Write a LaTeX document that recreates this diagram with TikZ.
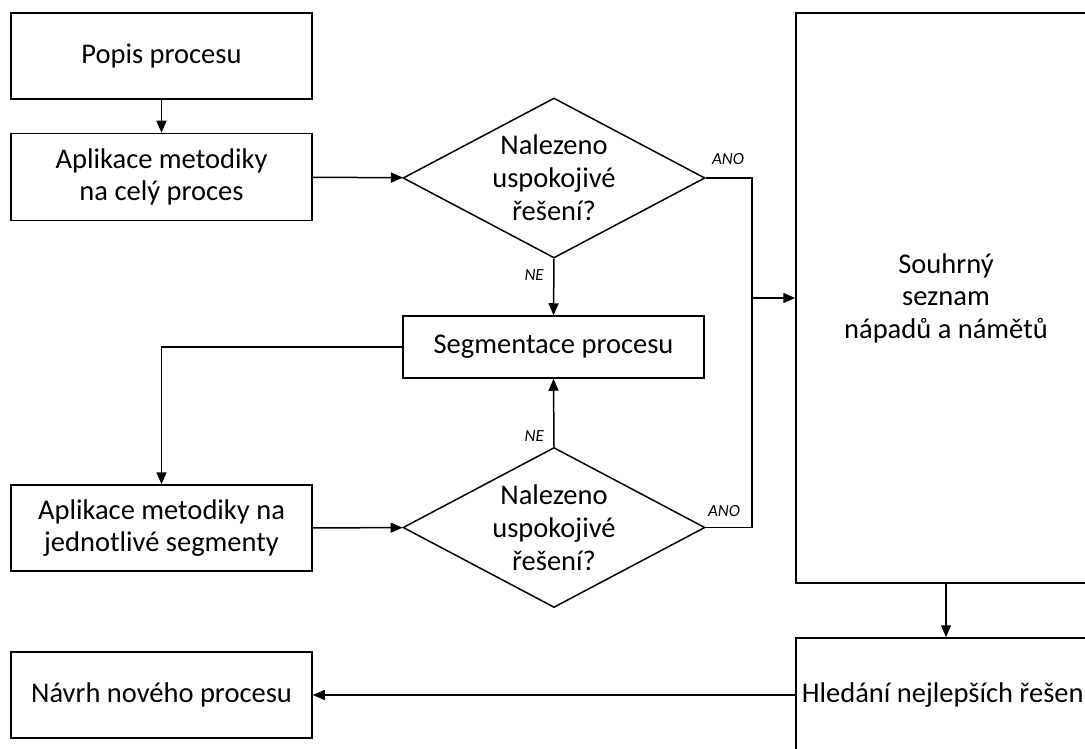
\documentclass[tikz,border=0pt]{standalone}
\usepackage{fontspec}
\setmainfont{Carlito}
\usepackage{tikz}
\usetikzlibrary{shapes.geometric,arrows.meta}

\tikzset{
  krok/.style={draw, line width=1.5pt, align=center, inner sep=2pt,
    font=\fontsize{28.5}{32.5}\selectfont},
  rozhod/.style={draw, diamond, line width=1.5pt, align=center, inner sep=-30pt,
    minimum width=302pt, minimum height=160pt, font=\fontsize{28.5}{33}\selectfont},
  sipka/.style={line width=1.5pt, -{Triangle[length=12pt,width=10pt]}},
  spoj/.style={line width=1.5pt},
  popisek/.style={font=\fontsize{17}{20}\selectfont\itshape}
}

\begin{document}
\begin{tikzpicture}[x=1pt,y=-1pt]
        \useasboundingbox (0,0) rectangle (1085,749);

        \node[krok, minimum width=301pt, minimum height=86pt] (popis) at (161.5,56) {Popis procesu};
        \node[krok, minimum width=301pt, minimum height=87pt] (apl1) at (161.5,177) {Aplikace metodiky\\na celý proces};
        \node[rozhod] (roz1) at (554,178) {Nalezeno\\uspokojivé\\řešení?};
        \node[krok, minimum width=301pt, minimum height=62pt] (seg) at (553.5,347) {Segmentace procesu};
        \node[rozhod] (roz2) at (554,527.5) {Nalezeno\\uspokojivé\\řešení?};
        \node[krok, minimum width=301pt, minimum height=86pt] (apl2) at (161.5,528) {Aplikace metodiky na\\jednotlivé segmenty};
        \node[krok, minimum width=300pt, minimum height=570pt] (souhrn) at (946,298) {Souhrný\\seznam\\nápadů a námětů};
        \node[krok, minimum width=300pt, minimum height=114pt] (hled) at (946,695) {Hledání nejlepších řešení};
        \node[krok, minimum width=301pt, minimum height=86pt] (navrh) at (161.5,695) {Návrh nového procesu};

        \coordinate (sber) at (752,298);

        \draw[sipka] (popis) -- (apl1);
        \draw[sipka] (apl1) -- (roz1);
        \draw[sipka] (roz1.south) -- node[popisek, left=6pt, pos=0.28] (ne1) {NE} (seg.north);
        \draw[sipka] (seg.west) -| (apl2.north);
        \draw[sipka] (apl2) -- (roz2);
        \draw[sipka] (roz2.north) -- node[popisek, left=6pt, pos=0.16] (ne2) {NE} (seg.south);
        \draw[spoj] (roz1.east) -| (sber);
        \draw[spoj] (roz2.east) -| (sber);
        \draw[sipka] (sber) -- (souhrn.west);
        \node[popisek] (ano1) at (728,159) {ANO};
        \node[popisek] (ano2) at (724,511) {ANO};
        \draw[sipka] (souhrn) -- (hled);
        \draw[sipka] (hled) -- (navrh);
      \end{tikzpicture}
\end{document}
